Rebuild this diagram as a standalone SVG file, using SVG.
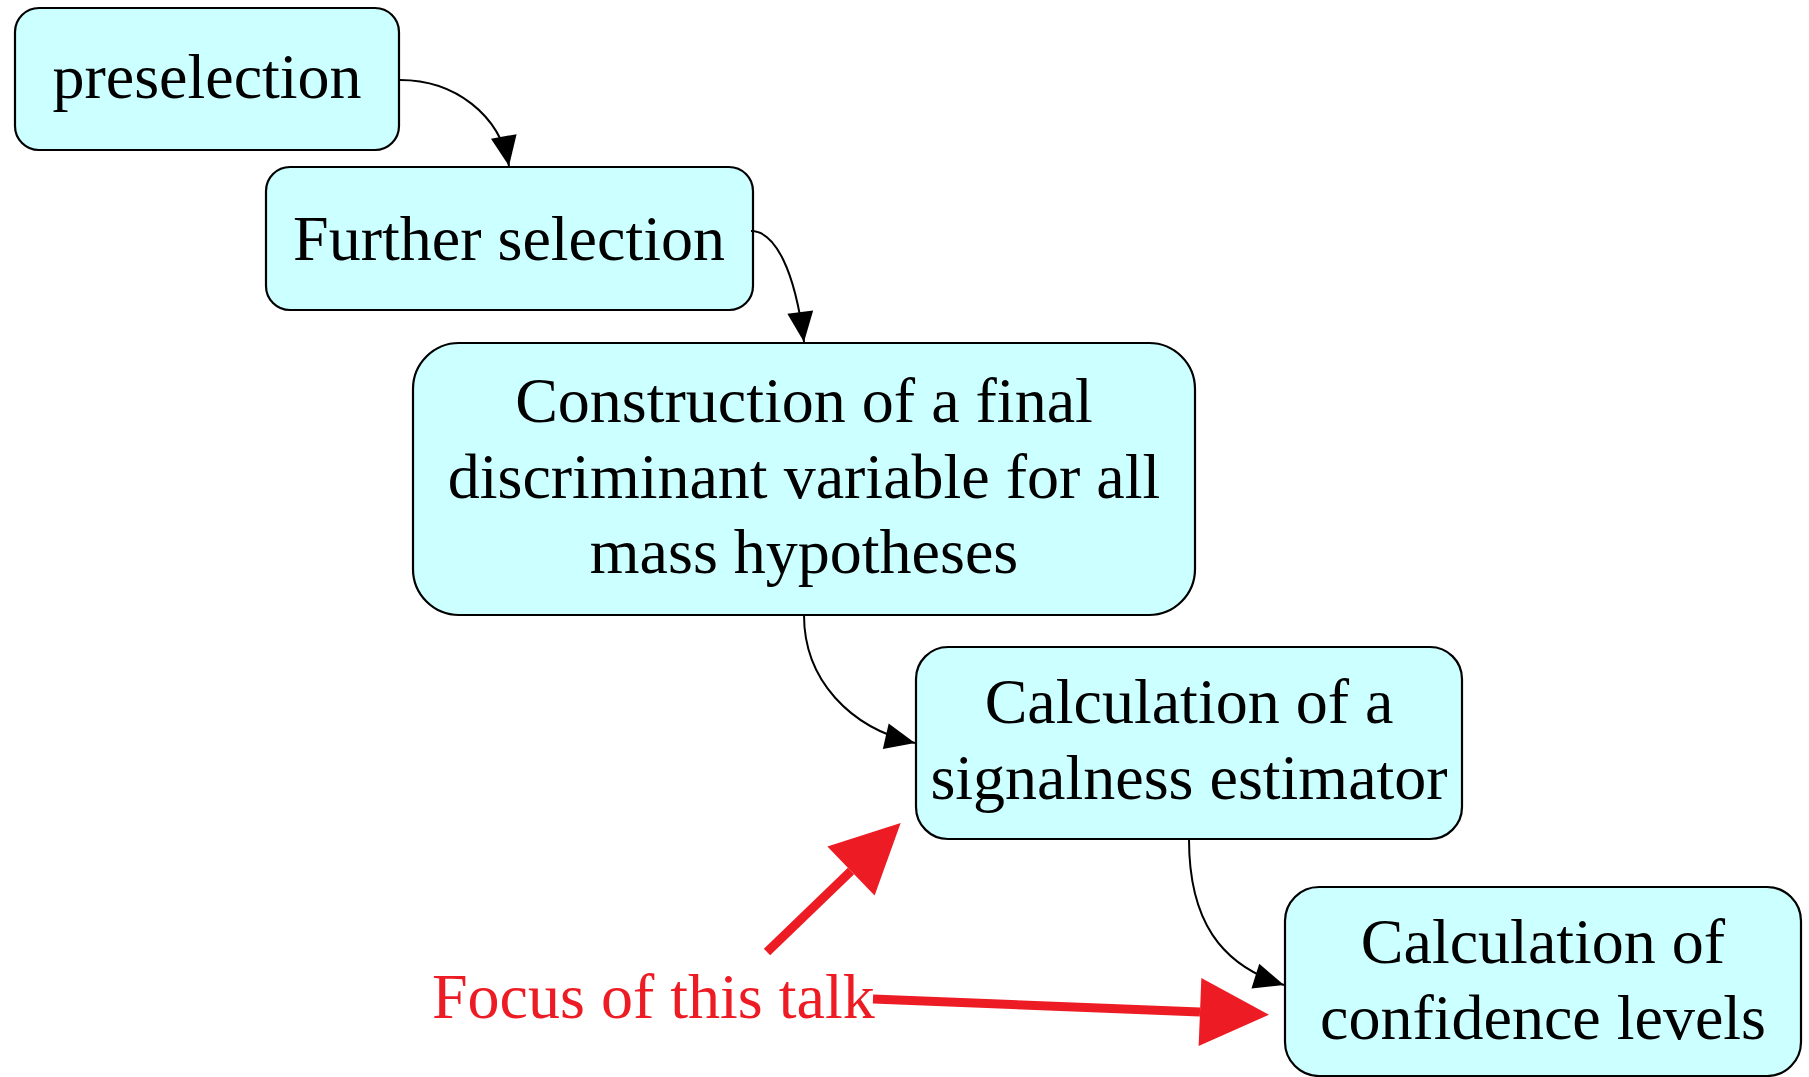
<svg xmlns="http://www.w3.org/2000/svg" width="1809" height="1077" viewBox="0 0 1809 1077">
<style>
.box{fill:#ccffff;stroke:#000;stroke-width:2.2}
.lbl{font-family:"Liberation Serif","Times New Roman",serif;font-size:64px;fill:#000;text-anchor:middle}
.edge{fill:none;stroke:#000;stroke-width:2}
.red{fill:none;stroke:#ed1c24;stroke-width:9}
.focus{font-family:"Liberation Serif","Times New Roman",serif;font-size:64px;fill:#ed1c24}
</style>
<defs>
<marker id="ah" markerUnits="userSpaceOnUse" markerWidth="32" markerHeight="28" refX="30" refY="13" orient="auto" overflow="visible">
<path d="M0,0 L30,13 L0,26 z" fill="#000"/>
</marker>
<marker id="rh" markerUnits="userSpaceOnUse" markerWidth="72" markerHeight="72" refX="0" refY="35" orient="auto" overflow="visible">
<path d="M0,1 L69,35 L0,69 z" fill="#ed1c24"/>
</marker>
</defs>
<g id="n1">
<rect class="box" x="15" y="8" width="384" height="142" rx="24"/>
<text class="lbl" x="207" y="98">preselection</text>
</g>
<g id="n2">
<rect class="box" x="266" y="167" width="487" height="143" rx="24"/>
<text class="lbl" x="509" y="260">Further selection</text>
</g>
<g id="n3">
<rect class="box" x="413" y="343" width="782" height="272" rx="46"/>
<text class="lbl" x="804" y="422">Construction of a final</text>
<text class="lbl" x="804" y="498">discriminant variable for all</text>
<text class="lbl" x="804" y="573">mass hypotheses</text>
</g>
<g id="n4">
<rect class="box" x="916" y="647" width="546" height="192" rx="32"/>
<text class="lbl" x="1189" y="723">Calculation of a</text>
<text class="lbl" x="1189" y="799">signalness estimator</text>
</g>
<g id="n5">
<rect class="box" x="1285" y="887" width="516" height="189" rx="34"/>
<text class="lbl" x="1543" y="963">Calculation of</text>
<text class="lbl" x="1543" y="1039">confidence levels</text>
</g>
<g id="focus">
<text class="focus" x="432" y="1018">Focus of this talk</text>
</g>
<g id="connectors">
<path class="edge" d="M400,80 C455,80 500,115 509,166" marker-end="url(#ah)"/>
<path class="edge" d="M751,231 C775,231 795,270 804,342" marker-end="url(#ah)"/>
<path class="edge" d="M804,615 C804,680 850,728 915,743" marker-end="url(#ah)"/>
<path class="edge" d="M1189,839 C1189,920 1220,965 1284,985" marker-end="url(#ah)"/>
<path class="red" d="M767,952 L851,871" marker-end="url(#rh)"/>
<path class="red" d="M873,999 L1200,1012" marker-end="url(#rh)"/>
</g>
</svg>
